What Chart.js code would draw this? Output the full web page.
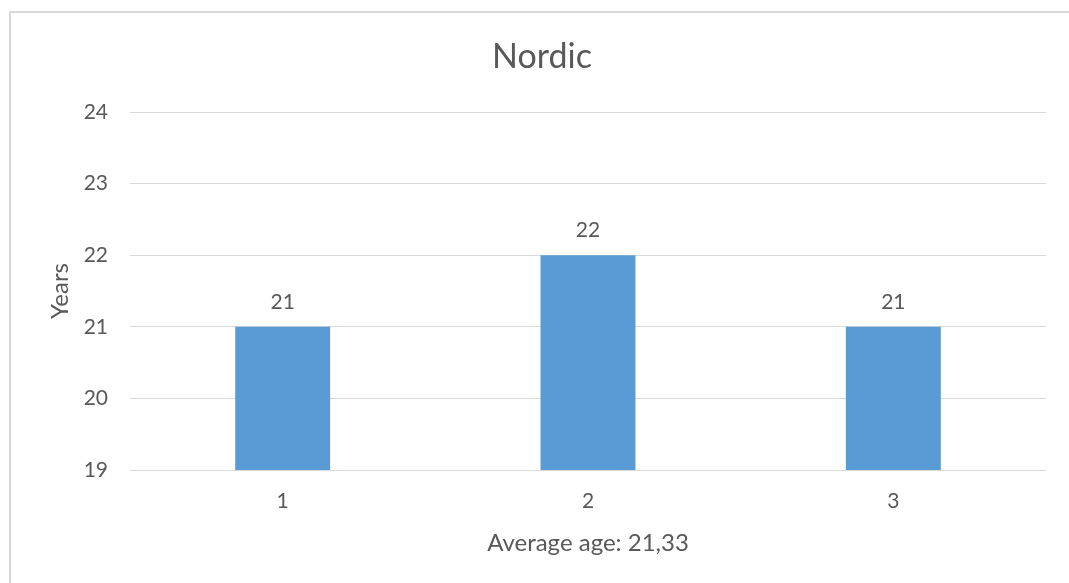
<!DOCTYPE html>
<html>
<head>
<meta charset="utf-8">
<script src="https://cdn.jsdelivr.net/npm/chart.js@4"></script>
<style>
  html, body { margin: 0; padding: 0; background: #ffffff; overflow: hidden; }
  #frame { position: absolute; left: 9px; top: 11px; width: 1200px; height: 700px;
           border-top: 2px solid #d9d9d9; border-left: 2px solid #d9d9d9; }
  #c { position: absolute; left: 0; top: 0; }
</style>
</head>
<body>
<div id="frame"></div>
<canvas id="c" width="1069" height="583"></canvas>
<script>
const chartTitle = 'Nordic';
const categories = ['1', '2', '3'];
const ages = [21, 22, 21];
const yAxisTitle = 'Years';
const xAxisTitle = 'Average age: 21,33';
const yMin = 19;
const yMax = 24;

const FONT = 'Lato, "Open Sans", sans-serif';
const TEXT = '#595959';
const GRID = '#d9d9d9';

const dataLabels = {
  id: 'dataLabels',
  afterDatasetsDraw(chart) {
    const ctx = chart.ctx;
    ctx.save();
    ctx.font = '21px ' + FONT;
    ctx.fillStyle = TEXT;
    ctx.textAlign = 'center';
    ctx.textBaseline = 'alphabetic';
    chart.getDatasetMeta(0).data.forEach((bar, i) => {
      ctx.fillText(String(chart.data.datasets[0].data[i]), bar.x, bar.y - 18);
    });
    ctx.restore();
  }
};

const titlePlugin = {
  id: 'centeredTitle',
  afterDraw(chart) {
    const ctx = chart.ctx;
    ctx.save();
    ctx.font = '34px ' + FONT;
    ctx.fillStyle = TEXT;
    ctx.textAlign = 'center';
    ctx.textBaseline = 'middle';
    ctx.fillText(chartTitle, 542, 57);
    ctx.restore();
  }
};

new Chart(document.getElementById('c'), {
  type: 'bar',
  data: {
    labels: categories,
    datasets: [{
      data: ages,
      backgroundColor: '#5b9bd5',
      borderWidth: 0,
      barPercentage: 0.311,
      categoryPercentage: 1.0
    }]
  },
  options: {
    responsive: false,
    animation: false,
    devicePixelRatio: 1,
    layout: { padding: { left: 0, right: 23, top: 112, bottom: 0 } },
    plugins: {
      legend: { display: false },
      tooltip: { enabled: false },
      title: { display: false }
    },
    scales: {
      x: {
        grid: { display: false, drawTicks: false },
        border: { display: false },
        ticks: { color: TEXT, font: { family: FONT, size: 21 }, padding: 19 },
        title: {
          display: true, text: xAxisTitle, color: TEXT,
          font: { family: FONT, size: 24 }, padding: { top: 25, bottom: 25 }
        },
        afterFit(scale) { scale.height = 113; }
      },
      y: {
        min: yMin, max: yMax,
        grid: { color: GRID, lineWidth: 1, drawTicks: false },
        border: { display: false },
        ticks: { stepSize: 1, color: TEXT, font: { family: FONT, size: 21 }, padding: 22 },
        title: {
          display: true, text: yAxisTitle, color: TEXT,
          font: { family: FONT, size: 24 }, padding: { top: 46, bottom: 46 }
        },
        afterFit(scale) { scale.width = 130; }
      }
    }
  },
  plugins: [dataLabels, titlePlugin]
});
</script>
</body>
</html>
